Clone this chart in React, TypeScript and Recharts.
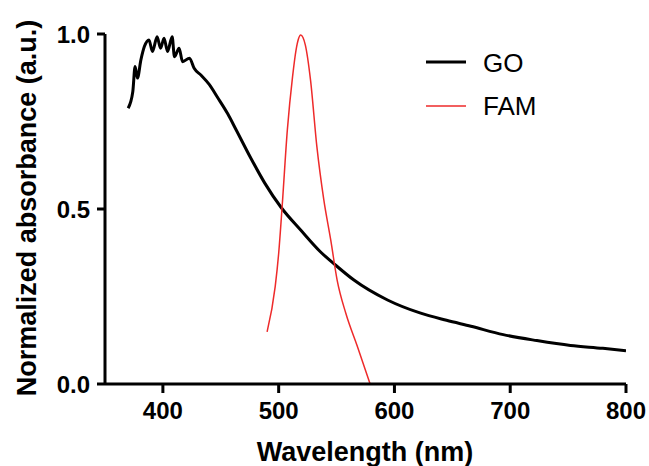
import React from 'react';
import { LineChart, Line, XAxis, YAxis } from 'recharts';

// GO absorbance spectrum (nm, normalized)
const goWavelength = [
  370, 374, 376, 378, 381, 384, 388, 391, 395, 398, 401, 404, 408, 410, 414, 417,
  423, 427, 433, 440, 447, 456, 463, 476, 488, 502, 519, 536, 549, 565, 594, 622,
  645, 666, 694, 723, 752, 780, 800,
];
const goAbsorbance = [
  0.788, 0.835, 0.907, 0.874, 0.926, 0.964, 0.983, 0.95, 0.992, 0.959, 0.988, 0.95,
  0.992, 0.935, 0.959, 0.921, 0.931, 0.902, 0.882, 0.856, 0.82, 0.772, 0.728, 0.645,
  0.574, 0.505, 0.44, 0.378, 0.34, 0.297, 0.24, 0.203, 0.182, 0.165, 0.141, 0.124,
  0.11, 0.102, 0.095,
];

// FAM absorbance spectrum
const famWavelength = [
  490, 497, 500, 503, 507.5, 512, 515, 517, 519, 521, 523, 527.5, 533, 539, 545,
  550.5, 558, 568, 579,
];
const famAbsorbance = [
  0.149, 0.278, 0.373, 0.507, 0.726, 0.878, 0.954, 0.985, 0.997, 0.99, 0.969, 0.869,
  0.678, 0.526, 0.411, 0.297, 0.202, 0.107, 0.0,
];

const xTicks = [400, 500, 600, 700, 800];
const yTicks = [0, 0.5, 1.0];

const goData = goWavelength.map((x, i) => ({ x, y: goAbsorbance[i] }));
const famData = famWavelength.map((x, i) => ({ x, y: famAbsorbance[i] }));

const FONT = '"Liberation Sans", Arial, Helvetica, sans-serif';
const tickStyle = { fill: '#000', fontSize: 24, fontWeight: 700, fontFamily: FONT };

const legendItems = [
  { name: 'GO', color: '#000', width: 3 },
  { name: 'FAM', color: '#ee2a2a', width: 1.5 },
];

// legend drawn as a plain overlay so the chart keeps its full plot height
const LegendBox = () => (
  <div style={{ position: 'absolute', left: 426, top: 40, fontFamily: FONT }}>
    {legendItems.map((it, i) => (
      <div key={it.name} style={{ display: 'flex', alignItems: 'center', height: 44 }}>
        <svg width={40} height={10} style={{ marginRight: 17 }}>
          <line x1={0} y1={5} x2={40} y2={5} stroke={it.color} strokeWidth={it.width} />
        </svg>
        <span style={{ fontSize: 26, color: '#000', lineHeight: '26px', marginTop: i === 0 ? 1 : -1 }}>
          {it.name}
        </span>
      </div>
    ))}
  </div>
);

export default function App() {
  return (
    <div style={{ position: 'absolute', left: 0, top: 0, width: 649, height: 466, background: '#fff' }}>
      <LineChart width={649} height={466} margin={{ top: 34, right: 23, bottom: 0, left: 0 }}>
        <XAxis
          type="number"
          dataKey="x"
          domain={[350, 800]}
          ticks={xTicks}
          allowDataOverflow
          height={82}
          stroke="#000"
          strokeWidth={3}
          tickSize={9}
          tickMargin={9}
          tick={tickStyle}
          tickLine={{ stroke: '#000', strokeWidth: 3 }}
          label={{
            content: () => (
              <text x={365} y={461} textAnchor="middle" fontSize={27} fontWeight={700} fontFamily={FONT} fill="#000">
                Wavelength (nm)
              </text>
            ),
          }}
        />
        <YAxis
          type="number"
          dataKey="y"
          domain={[0, 1]}
          ticks={yTicks}
          tickFormatter={(v: number) => v.toFixed(1)}
          width={105}
          stroke="#000"
          strokeWidth={3}
          tickSize={8}
          tickMargin={7}
          tick={tickStyle}
          tickLine={{ stroke: '#000', strokeWidth: 3 }}
          label={{
            content: () => (
              <text
                x={36}
                y={208}
                textAnchor="middle"
                fontSize={27}
                fontWeight={700}
                fontFamily={FONT}
                fill="#000"
                transform="rotate(-90 36 208)"
              >
                Normalized absorbance (a.u.)
              </text>
            ),
          }}
        />
        <Line
          data={goData}
          dataKey="y"
          name="GO"
          type="monotone"
          stroke="#000"
          strokeWidth={3}
          dot={false}
          isAnimationActive={false}
        />
        <Line
          data={famData}
          dataKey="y"
          name="FAM"
          type="monotone"
          stroke="#ee2a2a"
          strokeWidth={1.5}
          dot={false}
          isAnimationActive={false}
        />
      </LineChart>
      <LegendBox />
    </div>
  );
}
